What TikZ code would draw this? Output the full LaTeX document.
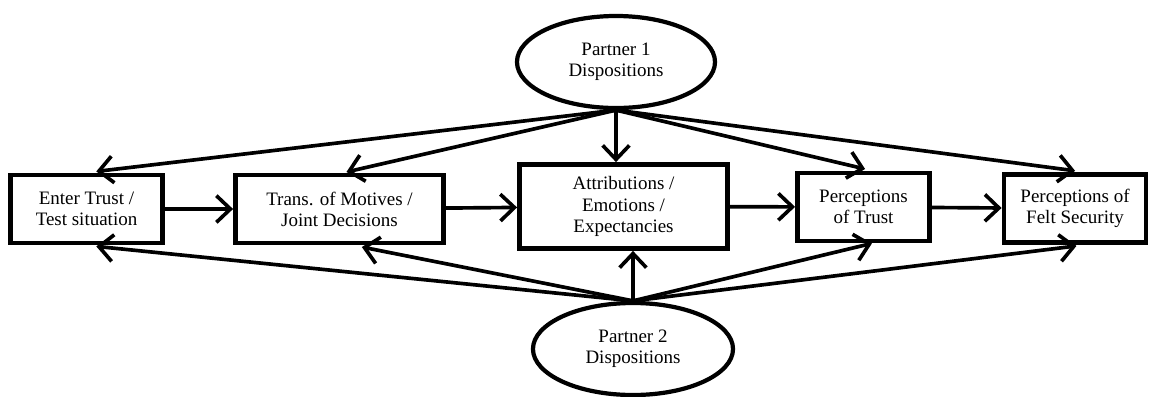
\documentclass[tikz,border=0pt]{standalone}
\usepackage{fontspec}
\setmainfont{Liberation Serif}
\usepackage{tikz}
\usetikzlibrary{arrows.meta,shapes.geometric}

\begin{document}
\begin{tikzpicture}[x=0.025cm, y=-0.025cm,
    every node/.style={font=\fontsize{13.5}{15}\selectfont},
    stage/.style={draw, line width=3.4pt, align=center, inner sep=2pt,
                  minimum height=1.7cm},
    partner/.style={draw, ellipse, line width=3pt, align=center,
                    minimum width=4.95cm, minimum height=2.3cm, inner sep=1pt},
    arr/.style={-{Straight Barb[length=10pt,width=19pt]}, line width=2.6pt}]
  \useasboundingbox (0,0) rectangle (1151,396);
  % partners
  \node[partner] (p1) at (616,62) {Partner 1\\Dispositions};
  \node[partner, minimum width=5cm] (p2) at (633,349) {Partner 2\\Dispositions};
  % process chain
  \node[stage, minimum width=3.8cm, minimum height=1.7cm] (b1) at (86.5,209)
       {Enter Trust /\\Test situation};
  \node[stage, minimum width=5.2cm] (b2) at (339.5,209)
       {Trans. of Motives /\\Joint Decisions};
  \node[stage, minimum width=5.2cm, minimum height=2.1cm] (b3) at (623.5,206.5)
       {Attributions /\\Emotions /\\Expectancies};
  \node[stage, minimum width=3.3cm] (b4) at (863.5,207)
       {Perceptions\\of Trust};
  \node[stage, minimum width=3.55cm] (b5) at (1075,208.5)
       {Perceptions of\\Felt Security};
  \draw[arr] (b1) -- (b2);
  \draw[arr] (b2) -- (b3);
  \draw[arr] (b3) -- (b4);
  \draw[arr] (b4) -- (b5);
  % partner 1 influences
  \draw[arr, shorten >=7pt] (p1.south) -- (b1.north);
  \draw[arr, shorten >=2pt] (p1.south) -- ([xshift=3pt]b2.north);
  \draw[arr] (p1.south) -- (b3.north -| p1.south);
  \draw[arr, shorten >=5pt] (p1.south) -- ([xshift=6pt]b4.north);
  \draw[arr, shorten >=7pt] (p1.south) -- ([xshift=7pt]b5.north);
  % partner 2 influences
  \draw[arr, shorten >=7pt] (p2.north) -- (b1.south);
  \draw[arr, shorten >=6pt] (p2.north) -- ([xshift=10pt]b2.south);
  \draw[arr] (p2.north) -- (b3.south -| p2.north);
  \draw[arr] (p2.north) -- ([xshift=6pt]b4.south);
  \draw[arr, shorten >=6pt] (p2.north) -- ([xshift=7pt]b5.south);
\end{tikzpicture}
\end{document}
